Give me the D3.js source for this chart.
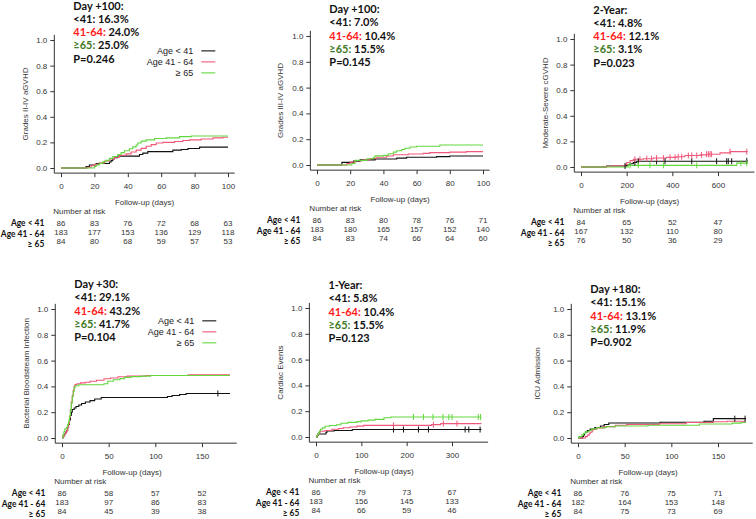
<!DOCTYPE html>
<html><head><meta charset="utf-8">
<script src="https://cdn.jsdelivr.net/npm/d3@7"></script>
<style>body{margin:0;background:#fff} svg{display:block}</style>
</head><body>
<svg id="c" width="756" height="519"></svg>
<script>
// ---------- DATA ----------
const groups = ["Age < 41", "Age 41 - 64", "\u2265 65"];

// Panel 1: Grades II-IV aGVHD
const agvhd24_lt41 = [[0,0],[15,0.012],[17,0.023],[21,0.035],[29,0.047],[30,0.058],[31,0.07],[32,0.081],[34,0.093],[47,0.105],[49,0.116],[52,0.128],[67,0.14],[72,0.145],[76,0.152],[83,0.163],[100,0.163]];
const agvhd24_mid  = [[0,0],[16,0.006],[18,0.017],[20,0.028],[23,0.04],[26,0.055],[29,0.07],[32,0.085],[35,0.1],[39,0.11],[42,0.125],[45,0.14],[48,0.153],[51,0.17],[54,0.183],[57,0.195],[61,0.2],[68,0.207],[73,0.215],[77,0.22],[84,0.227],[91,0.235],[97,0.24],[100,0.24]];
const agvhd24_ge65 = [[0,0],[20,0.012],[21,0.024],[23,0.036],[25,0.048],[27,0.06],[29,0.075],[31,0.09],[34,0.105],[36,0.12],[38,0.135],[41,0.15],[43,0.165],[45,0.18],[46,0.195],[48,0.21],[51,0.22],[56,0.23],[63,0.235],[71,0.245],[78,0.25],[100,0.25]];
const risk1_times = [0,20,40,60,80,100];
const risk1_lt41 = [86,83,76,72,68,63];
const risk1_mid  = [183,177,153,136,129,118];
const risk1_ge65 = [84,80,68,59,57,53];

// Panel 2: Grades III-IV aGVHD
const agvhd34_lt41 = [[0,0],[15,0.02],[22,0.03],[26,0.04],[35,0.047],[48,0.053],[54,0.06],[72,0.065],[80,0.07],[100,0.07]];
const agvhd34_mid  = [[0,0],[18,0.011],[20,0.022],[23,0.033],[28,0.04],[32,0.05],[36,0.06],[42,0.07],[46,0.08],[55,0.085],[64,0.09],[68,0.096],[80,0.1],[90,0.104],[100,0.104]];
const agvhd34_ge65 = [[0,0],[21,0.012],[23,0.036],[30,0.048],[34,0.06],[35,0.071],[40,0.075],[43,0.087],[46,0.1],[48,0.11],[51,0.12],[53,0.13],[56,0.14],[60,0.145],[74,0.155],[100,0.155]];
const risk2_times = [0,20,40,60,80,100];
const risk2_lt41 = [86,83,80,78,76,71];
const risk2_mid  = [183,180,165,157,152,140];
const risk2_ge65 = [84,83,74,66,64,60];

// Panel 3: Moderate-Severe cGVHD
const cgvhd_lt41 = [[0,0],[112,0.008],[200,0.015],[215,0.025],[229,0.035],[244,0.045],[725,0.048],[730,0.048]];
const cgvhd_mid  = [[0,0],[112,0.005],[142,0.01],[193,0.02],[200,0.035],[215,0.05],[229,0.06],[273,0.065],[317,0.07],[375,0.075],[419,0.08],[455,0.09],[521,0.095],[550,0.1],[609,0.11],[653,0.12],[730,0.12]];
const cgvhd_ge65 = [[0,0],[207,0.013],[682,0.03],[730,0.03]];
const cgvhd_cens_lt41 = [193,236,251,331,368,485,594,638,645,660,726];
const cgvhd_cens_mid  = [236,258,288,309,331,361,390,412,426,441,470,485,507,528,550,558,565,572,653,726];
const cgvhd_cens_ge65 = [215,251,302,361,507,700,726];
const risk3_times = [0,200,400,600];
const risk3_lt41 = [84,65,52,47];
const risk3_mid  = [167,132,110,80];
const risk3_ge65 = [76,50,36,29];

// Panel 4: Bacterial Bloodstream Infection
const bsi_lt41 = [[0,0],[1,0.012],[2,0.023],[3,0.035],[4,0.047],[5,0.058],[6,0.081],[7,0.105],[8,0.14],[9,0.174],[10,0.2],[11,0.221],[13,0.233],[15,0.244],[18,0.256],[21,0.267],[25,0.279],[30,0.29],[35,0.302],[42,0.314],[108,0.314],[113,0.322],[118,0.33],[126,0.337],[133,0.345],[180,0.345]];
const bsi_mid  = [[0,0],[1,0.011],[2,0.022],[3,0.033],[4,0.044],[5,0.055],[6,0.077],[7,0.11],[8,0.16],[9,0.22],[10,0.28],[11,0.33],[12,0.37],[13,0.4],[14,0.415],[16,0.421],[20,0.427],[25,0.432],[30,0.44],[37,0.448],[45,0.459],[52,0.465],[60,0.475],[70,0.48],[90,0.485],[135,0.49],[180,0.49]];
const bsi_ge65 = [[0,0],[1,0.024],[2,0.048],[3,0.071],[5,0.083],[6,0.107],[7,0.13],[8,0.17],[9,0.22],[10,0.27],[11,0.32],[12,0.36],[13,0.39],[14,0.405],[18,0.413],[45,0.42],[49,0.44],[55,0.452],[62,0.46],[67,0.47],[74,0.476],[85,0.48],[95,0.485],[180,0.485]];
const bsi_cens_lt41 = [167];
const risk4_times = [0,50,100,150];
const risk4_lt41 = [86,58,57,52];
const risk4_mid  = [183,97,86,83];
const risk4_ge65 = [84,45,39,38];

// Panel 5: Cardiac Events
const card_lt41 = [[0,0],[3,0.012],[5,0.023],[22,0.035],[24,0.047],[40,0.05],[80,0.058],[365,0.058]];
const card_mid  = [[0,0],[2,0.011],[4,0.022],[6,0.033],[9,0.044],[20,0.05],[35,0.06],[50,0.066],[60,0.072],[75,0.078],[90,0.084],[105,0.09],[255,0.096],[275,0.104],[365,0.104]];
const card_ge65 = [[0,0],[2,0.012],[4,0.024],[6,0.036],[8,0.048],[10,0.06],[14,0.071],[20,0.083],[30,0.089],[45,0.095],[55,0.107],[70,0.113],[90,0.119],[100,0.125],[115,0.131],[130,0.137],[150,0.149],[165,0.155],[365,0.155]];
const card_cens_lt41 = [171,193,226,248,329,337,362];
const card_cens_mid  = [171,259,281,311];
const card_cens_ge65 = [215,237,258,280,293,300,358,363];
const risk5_times = [0,100,200,300];
const risk5_lt41 = [86,79,73,67];
const risk5_mid  = [183,156,145,133];
const risk5_ge65 = [84,66,59,46];

// Panel 6: ICU Admission
const icu_lt41 = [[0,0],[5,0.012],[6,0.023],[7,0.035],[8,0.047],[10,0.058],[13,0.07],[18,0.081],[24,0.093],[28,0.105],[33,0.116],[88,0.122],[135,0.13],[145,0.15],[180,0.15]];
const icu_mid  = [[0,0],[8,0.011],[10,0.022],[12,0.033],[13,0.044],[15,0.055],[16,0.066],[20,0.077],[28,0.088],[40,0.099],[52,0.105],[87,0.11],[116,0.12],[145,0.126],[160,0.13],[180,0.13]];
const icu_ge65 = [[0,0],[1,0.012],[4,0.024],[6,0.036],[8,0.048],[12,0.06],[15,0.071],[20,0.079],[30,0.087],[40,0.093],[75,0.099],[130,0.108],[165,0.115],[175,0.12],[180,0.12]];
const icu_cens_lt41 = [168,179];
const risk6_times = [0,50,100,150];
const risk6_lt41 = [86,76,75,71];
const risk6_mid  = [182,164,153,148];
const risk6_ge65 = [84,75,73,69];

const yTicks = [0,0.2,0.4,0.6,0.8,1.0];

// ---------- DRAW ----------
const svg = d3.select("#c");
const COL = ["#111111","#f0587a","#62d83e"];
const TXT_RED = "#ff1a1a", TXT_GREEN = "#3f7a26";
const AX = "#333";
const F_AX = "'Liberation Sans', Arial, sans-serif";
const F_B = "Lato, 'Open Sans', sans-serif";

function panel(c){
  const g = svg.append("g");
  const x = d3.scaleLinear().domain([c.xt[0], c.xt[c.xt.length-1]]).range([c.px0, c.px1]);
  const y = d3.scaleLinear().domain([0,1]).range([c.py0, c.py1]);
  const xl = x(-0.04*c.xmax), xr = x(1.04*c.xmax);
  const yb = y(-0.04), yt = y(1.04);

  // L box
  g.append("path").attr("d", `M${xl},${yt}V${yb}H${xr}`)
    .attr("fill","none").attr("stroke",AX).attr("stroke-width",1);

  // y axis
  const ya = g.append("g").attr("transform",`translate(${xl},0)`)
    .call(d3.axisLeft(y).tickValues(yTicks).tickFormat(d3.format(".1f")).tickSize(4).tickPadding(3));
  ya.select(".domain").remove();
  ya.selectAll("line").attr("stroke",AX);
  ya.selectAll("text").attr("font-family",F_AX).attr("font-size",8).attr("fill","#333");

  // x axis
  const xa = g.append("g").attr("transform",`translate(0,${yb})`)
    .call(d3.axisBottom(x).tickValues(c.xt).tickFormat(d3.format("d")).tickSize(4).tickPadding(6));
  xa.select(".domain").remove();
  xa.selectAll("line").attr("stroke",AX);
  xa.selectAll("text").attr("font-family",F_AX).attr("font-size",8).attr("fill","#333");

  // y label
  g.append("text").attr("transform",`translate(${xl + c.ylabDx},${(yt+yb)/2}) rotate(-90)`)
    .attr("text-anchor","middle").attr("font-family",F_AX).attr("font-size",8).attr("fill","#333")
    .text(c.ylab);

  // x label
  g.append("text").attr("x",(x(c.xt[0])+x(c.xt[c.xt.length-1]))/2).attr("y",yb+32)
    .attr("text-anchor","middle").attr("font-family",F_AX).attr("font-size",8).attr("fill","#333")
    .text("Follow-up (days)");

  // curves
  const line = d3.line().x(d=>x(d[0])).y(d=>y(d[1])).curve(d3.curveStepAfter);
  c.series.forEach((s,i)=>{
    g.append("path").datum(s).attr("d",line).attr("fill","none")
      .attr("stroke",COL[i]).attr("stroke-width",1.1);
  });
  // censor marks
  (c.cens||[]).forEach((cs,i)=>{
    if(!cs) return;
    const s = c.series[i];
    const f = t => { let v=0; for(const p of s){ if(p[0]<=t) v=p[1]; } return v; };
    g.selectAll(null).data(cs).enter().append("line")
      .attr("x1",t=>x(t)).attr("x2",t=>x(t))
      .attr("y1",t=>y(f(t))-3).attr("y2",t=>y(f(t))+3)
      .attr("stroke",COL[i]).attr("stroke-width",1);
  });

  // risk table
  g.append("text").attr("x",xl-1).attr("y",yb+41).attr("font-family",F_AX).attr("font-size",8).attr("fill","#333")
    .text("Number at risk");
  c.risk.forEach((row,i)=>{
    g.selectAll(null).data(row).enter().append("text")
      .attr("x",(d,j)=>x(c.rt[j])).attr("y",yb+53+i*9)
      .attr("text-anchor","middle").attr("font-family",F_AX).attr("font-size",8).attr("fill","#333")
      .text(d=>d);
    g.append("text").attr("transform",`translate(${xl-10},${yb+53+i*10.5}) scale(0.86,1)`)
      .attr("text-anchor","end").attr("font-family",F_B).attr("font-weight",700).attr("font-size",9.8).attr("fill","#111")
      .text(groups[i]);
  });

  // annotation
  const lines = [
    [[c.ann[0],"#111"]],
    [["<41: ","#111"],[c.ann[1],"#111"]],
    [["41-64: ",TXT_RED],[c.ann[2],"#111"]],
    [["\u226565: ",TXT_GREEN],[c.ann[3],"#111"]],
    [["P="+c.ann[4],"#111"]]
  ];
  lines.forEach((ln,i)=>{
    const t = g.append("text").attr("x",xl+19).attr("y",c.annY+i*13.3)
      .attr("font-family",F_B).attr("font-weight",700).attr("font-size",11);
    ln.forEach(([s,col])=>t.append("tspan").attr("fill",col).text(s));
  });

  // legend
  if(c.legend){
    groups.forEach((gname,i)=>{
      const ly = yt + c.legendDy + i*11;
      g.append("text").attr("x",xl+139).attr("y",ly+3).attr("text-anchor","end")
        .attr("font-family",F_AX).attr("font-size",9).attr("fill","#222").text(gname);
      g.append("line").attr("x1",xl+147).attr("x2",xl+161).attr("y1",ly).attr("y2",ly)
        .attr("stroke",COL[i]).attr("stroke-width",1.1);
    });
  }
}

panel({xt:[0,20,40,60,80,100], xmax:100, px0:61, px1:228, py0:168, py1:40, ylab:"Grades II-IV aGVHD", ylabDx:-26,
  series:[agvhd24_lt41,agvhd24_mid,agvhd24_ge65], rt:risk1_times, risk:[risk1_lt41,risk1_mid,risk1_ge65],
  ann:["Day +100:","16.3%","24.0%","25.0%","0.246"], annY:9.5, legend:true, legendDy:16});
panel({xt:[0,20,40,60,80,100], xmax:100, px0:317, px1:483, py0:165, py1:36, ylab:"Grades III-IV aGVHD", ylabDx:-27,
  series:[agvhd34_lt41,agvhd34_mid,agvhd34_ge65], rt:risk2_times, risk:[risk2_lt41,risk2_mid,risk2_ge65],
  ann:["Day +100:","7.0%","10.4%","15.5%","0.145"], annY:13});
panel({xt:[0,200,400,600], xmax:730, px0:581, px1:718, py0:167, py1:39, ylab:"Moderate-Severe cGVHD", ylabDx:-26,
  series:[cgvhd_lt41,cgvhd_mid,cgvhd_ge65], cens:[cgvhd_cens_lt41,cgvhd_cens_mid,cgvhd_cens_ge65],
  rt:risk3_times, risk:[risk3_lt41,risk3_mid,risk3_ge65],
  ann:["2-Year:","4.8%","12.1%","3.1%","0.023"], annY:13.5});
panel({xt:[0,50,100,150], xmax:180, px0:62, px1:202, py0:438, py1:309, ylab:"Bacterial Bloodstream Infection", ylabDx:-26,
  series:[bsi_lt41,bsi_mid,bsi_ge65], cens:[bsi_cens_lt41,null,null], rt:risk4_times, risk:[risk4_lt41,risk4_mid,risk4_ge65],
  ann:["Day +30:","29.1%","43.2%","41.7%","0.104"], annY:288, legend:true, legendDy:17});
panel({xt:[0,100,200,300], xmax:365, px0:316, px1:452, py0:437, py1:308, ylab:"Cardiac Events", ylabDx:-26,
  series:[card_lt41,card_mid,card_ge65], cens:[card_cens_lt41,card_cens_mid,card_cens_ge65],
  rt:risk5_times, risk:[risk5_lt41,risk5_mid,risk5_ge65],
  ann:["1-Year:","5.8%","10.4%","15.5%","0.123"], annY:289});
panel({xt:[0,50,100,150], xmax:180, px0:578, px1:718, py0:438, py1:309, ylab:"ICU Admission", ylabDx:-31,
  series:[icu_lt41,icu_mid,icu_ge65], cens:[icu_cens_lt41,null,null], rt:risk6_times, risk:[risk6_lt41,risk6_mid,risk6_ge65],
  ann:["Day +180:","15.1%","13.1%","11.9%","0.902"], annY:293});
</script>
</body></html>
